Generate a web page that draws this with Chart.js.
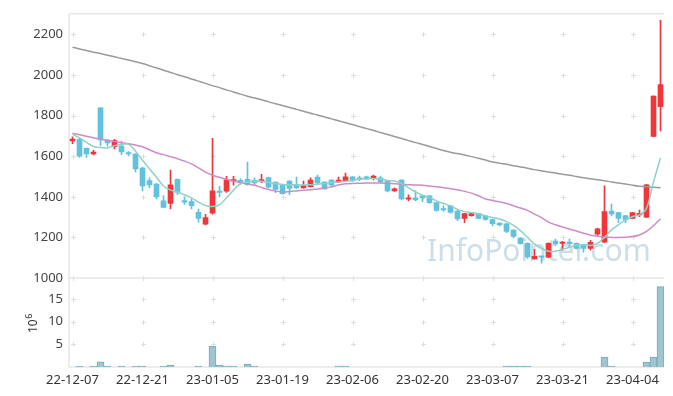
<!DOCTYPE html>
<html>
<head>
<meta charset="utf-8">
<script src="https://cdn.jsdelivr.net/npm/chart.js@4.4.1/dist/chart.umd.min.js"></script>
<style>
  html, body { margin: 0; padding: 0; background: #fff; }
  #wrap { width: 673px; height: 396px; position: relative; }
</style>
</head>
<body>
<div id="wrap"><canvas id="priceChart"></canvas></div>
<script>
const dates = [
  "22-12-07","22-12-08","22-12-09","22-12-12","22-12-13","22-12-14","22-12-15","22-12-16","22-12-19","22-12-20",
  "22-12-21","22-12-22","22-12-23","22-12-26","22-12-27","22-12-28","22-12-29","23-01-02","23-01-03","23-01-04",
  "23-01-05","23-01-06","23-01-09","23-01-10","23-01-11","23-01-12","23-01-13","23-01-16","23-01-17","23-01-18",
  "23-01-19","23-01-20","23-01-25","23-01-26","23-01-27","23-01-30","23-01-31","23-02-01","23-02-02","23-02-03",
  "23-02-06","23-02-07","23-02-08","23-02-09","23-02-10","23-02-13","23-02-14","23-02-15","23-02-16","23-02-17",
  "23-02-20","23-02-21","23-02-22","23-02-23","23-02-24","23-02-27","23-02-28","23-03-02","23-03-03","23-03-06",
  "23-03-07","23-03-08","23-03-09","23-03-10","23-03-13","23-03-14","23-03-15","23-03-16","23-03-17","23-03-20",
  "23-03-21","23-03-22","23-03-23","23-03-24","23-03-27","23-03-28","23-03-29","23-03-30","23-03-31","23-04-03",
  "23-04-04","23-04-05","23-04-06","23-04-07","23-04-10"
];

const openP = [
  1676,1683,1639,1611,1839,1680,1647,1650,1616,1610,
  1541,1480,1463,1380,1367,1486,1381,1376,1323,1265,
  1319,1428,1428,1477,1479,1486,1481,1478,1495,1472,
  1459,1478,1460,1444,1450,1497,1473,1483,1473,1478,
  1498,1490,1498,1493,1493,1478,1429,1483,1388,1395,
  1405,1405,1371,1339,1356,1330,1293,1307,1317,1306,
  1288,1270,1267,1236,1197,1171,1094,1106,1102,1182,
  1170,1173,1171,1162,1145,1216,1177,1330,1322,1307,
  1294,1311,1299,1698,1844
];
const highP = [
  1696,1688,1641,1629,1840,1683,1683,1675,1623,1612,
  1546,1493,1466,1406,1532,1488,1400,1389,1340,1314,
  1688,1452,1501,1501,1490,1571,1493,1511,1497,1474,
  1461,1480,1497,1477,1493,1507,1475,1485,1497,1517,
  1500,1502,1502,1507,1502,1480,1444,1485,1410,1429,
  1407,1407,1373,1356,1358,1333,1319,1319,1319,1308,
  1290,1272,1269,1238,1199,1173,1141,1107,1173,1192,
  1180,1192,1173,1164,1185,1245,1454,1364,1324,1309,
  1324,1335,1461,1898,2270
];
const lowP = [
  1662,1594,1594,1606,1652,1650,1636,1608,1601,1523,
  1429,1445,1390,1346,1340,1411,1362,1340,1275,1262,
  1315,1399,1421,1457,1461,1457,1457,1470,1444,1420,
  1413,1411,1441,1442,1448,1466,1438,1449,1470,1476,
  1476,1480,1484,1483,1471,1424,1427,1385,1380,1380,
  1376,1367,1329,1328,1319,1283,1273,1305,1292,1283,
  1257,1257,1223,1197,1166,1096,1093,1073,1100,1161,
  1137,1156,1143,1127,1137,1210,1175,1306,1273,1273,
  1292,1302,1297,1696,1725
];
const closeP = [
  1684,1600,1611,1620,1680,1665,1677,1621,1611,1538,
  1454,1459,1400,1348,1459,1421,1374,1356,1294,1298,
  1429,1421,1484,1482,1474,1460,1468,1484,1447,1436,
  1416,1441,1444,1455,1483,1468,1439,1457,1483,1498,
  1478,1486,1488,1502,1473,1429,1439,1390,1393,1385,
  1395,1371,1333,1335,1323,1291,1317,1317,1294,1289,
  1267,1262,1229,1205,1169,1104,1107,1102,1171,1169,
  1175,1169,1145,1145,1176,1242,1327,1316,1294,1286,
  1322,1316,1459,1896,1953
];

// volume, millions of shares
const volume = [
  null,0.2,null,0.2,1.16,0.2,null,0.2,null,0.2,
  0.2,null,null,0.2,0.43,null,null,null,0.2,null,
  4.57,0.43,0.2,0.2,null,0.65,0.2,null,null,null,
  null,null,null,null,null,null,null,null,0.2,0.2,
  null,null,null,null,null,null,null,null,null,null,
  null,null,null,null,null,null,null,null,null,null,
  null,null,0.2,0.2,0.2,0.2,null,null,null,null,
  null,null,null,null,null,null,2.17,0.2,null,null,
  null,null,1.09,2.17,17.7
];

const ma5 = [
  1708,1690,1668,1648,1643,1641,1652,1658,1660,1625,
  1580,1538,1496,1453,1433,1424,1410,1395,1374,1357,
  1352,1360,1395,1433,1465,1473,1477,1477,1470,1465,
  1461,1459,1459,1458,1460,1462,1465,1470,1473,1477,
  1481,1486,1489,1490,1488,1480,1478,1465,1445,1424,
  1408,1397,1380,1367,1355,1338,1327,1322,1316,1306,
  1298,1291,1278,1259,1233,1200,1167,1145,1132,1132,
  1140,1151,1161,1164,1160,1170,1200,1237,1262,1286,
  1302,1311,1343,1473,1592
];
const ma20 = [
  1713,1706,1698,1691,1684,1678,1672,1667,1662,1655,
  1647,1632,1617,1608,1598,1588,1576,1562,1543,1522,
  1506,1496,1486,1478,1470,1463,1457,1446,1436,1428,
  1424,1426,1429,1432,1435,1438,1443,1449,1458,1464,
  1466,1467,1468,1468,1468,1466,1464,1462,1460,1458,
  1457,1453,1449,1445,1440,1435,1427,1418,1405,1389,
  1382,1375,1367,1356,1345,1333,1315,1297,1275,1262,
  1251,1241,1231,1220,1211,1205,1201,1200,1200,1201,
  1204,1212,1229,1258,1291
];
const ma120 = [
  2137,2129,2121,2113,2106,2098,2090,2082,2074,2066,
  2057,2046,2035,2024,2013,2002,1992,1981,1970,1959,
  1948,1938,1927,1917,1906,1896,1887,1878,1868,1859,
  1850,1840,1831,1822,1812,1803,1793,1784,1775,1765,
  1756,1746,1736,1727,1717,1707,1697,1687,1677,1667,
  1658,1648,1638,1628,1620,1613,1606,1598,1590,1581,
  1572,1566,1560,1553,1547,1541,1534,1528,1522,1517,
  1511,1506,1500,1494,1489,1484,1479,1473,1468,1463,
  1457,1452,1449,1447,1445
];

const priceTicks = [1000, 1200, 1400, 1600, 1800, 2000, 2200];
const volumeTicks = [5, 10, 15];

const UP = "#ef363b";
const DOWN = "#62c2de";
const candleColor = closeP.map((c, i) => (c >= openP[i] ? UP : DOWN));

const font = { family: "'Noto Sans', sans-serif", size: 13 };

// little "+" marks instead of full grid lines, panel borders and the watermark
const backdrop = {
  id: "backdrop",
  beforeDatasetsDraw(chart) {
    const { ctx, scales, chartArea } = chart;
    const x = scales.x, yp = scales.yPrice, yv = scales.yVol;
    ctx.save();

    ctx.font = "30px 'Noto Sans', sans-serif";
    ctx.fillStyle = "rgba(170, 200, 217, 0.6)";
    ctx.textBaseline = "alphabetic";
    ctx.fillText("InfoPointer.com", 427, 261);

    ctx.strokeStyle = "#dddddd";
    ctx.lineWidth = 1;
    const xs = [];
    for (let i = 0; i < dates.length; i += 10) xs.push(Math.round(x.getPixelForValue(i)) + 0.5);
    const marks = (scale, vals) => {
      vals.forEach(v => {
        const py = Math.round(scale.getPixelForValue(v)) + 0.5;
        xs.forEach(px => {
          ctx.beginPath();
          ctx.moveTo(px - 2.5, py); ctx.lineTo(px + 2.5, py);
          ctx.moveTo(px, py - 2.5); ctx.lineTo(px, py + 2.5);
          ctx.stroke();
        });
      });
    };
    marks(yp, priceTicks);
    marks(yv, volumeTicks);

    ctx.strokeStyle = "#e6e6e6";
    ctx.lineWidth = 1.5;
    ctx.beginPath();
    ctx.moveTo(chartArea.left, yp.top); ctx.lineTo(chartArea.right, yp.top);
    ctx.moveTo(chartArea.left, yp.bottom); ctx.lineTo(chartArea.right, yp.bottom);
    ctx.moveTo(chartArea.left, yv.bottom); ctx.lineTo(chartArea.right, yv.bottom);
    ctx.moveTo(chartArea.left, yp.top); ctx.lineTo(chartArea.left, yv.bottom);
    ctx.stroke();
    ctx.restore();
  },
  afterDraw(chart) {
    const ctx = chart.ctx;
    ctx.save();
    ctx.translate(37, 333);
    ctx.rotate(-Math.PI / 2);
    ctx.fillStyle = "#333";
    ctx.textBaseline = "alphabetic";
    ctx.font = "12px 'Noto Sans', sans-serif";
    ctx.fillText("10", 0, 0);
    const w = ctx.measureText("10").width;
    ctx.font = "9px 'Noto Sans', sans-serif";
    ctx.fillText("6", w + 0.5, -5);
    ctx.restore();
  }
};

new Chart(document.getElementById("priceChart"), {
  data: {
    labels: dates,
    datasets: [
      { type: "line", label: "MA5", data: ma5, yAxisID: "yPrice", borderColor: "#8fd1c6",
        borderWidth: 1.5, pointRadius: 0, tension: 0.3, order: 0 },
      { type: "line", label: "MA20", data: ma20, yAxisID: "yPrice", borderColor: "#cc8cc8",
        borderWidth: 1.5, pointRadius: 0, tension: 0.3, order: 0 },
      { type: "line", label: "MA120", data: ma120, yAxisID: "yPrice", borderColor: "#9a9a9a",
        borderWidth: 1.5, pointRadius: 0, tension: 0.3, order: 0 },
      { type: "bar", label: "body", data: openP.map((o, i) => [o, closeP[i]]), yAxisID: "yPrice",
        backgroundColor: candleColor, barThickness: 5, minBarLength: 1.5, grouped: false, order: 1 },
      { type: "bar", label: "wick", data: lowP.map((l, i) => [l, highP[i]]), yAxisID: "yPrice",
        backgroundColor: candleColor, barThickness: 1, grouped: false, order: 2 },
      { type: "bar", label: "volume", data: volume, yAxisID: "yVol",
        backgroundColor: "#9ec5d1", borderColor: "#77aabb", borderWidth: 1,
        barPercentage: 1, categoryPercentage: 1, grouped: false, order: 3 }
    ]
  },
  options: {
    responsive: true,
    maintainAspectRatio: false,
    animation: false,
    layout: { padding: { left: 0, top: 10, right: 9, bottom: 5 } },
    plugins: { legend: { display: false }, tooltip: { enabled: false } },
    scales: {
      x: {
        type: "category",
        offset: true,
        grid: { display: false, drawTicks: false },
        border: { display: false },
        ticks: {
          autoSkip: false, maxRotation: 0, padding: 5, color: "#333", font,
          callback: (v, i) => (i % 10 === 0 ? dates[i] : "")
        },
        afterFit: s => { s.height = 24; }
      },
      yVol: {
        position: "left", stack: "panels", stackWeight: 90,
        min: 0, max: 19.6,
        grid: { display: false, drawTicks: false },
        border: { display: false },
        ticks: { padding: 6, color: "#444", font, callback: v => String(v) },
        afterBuildTicks: s => { s.ticks = volumeTicks.map(v => ({ value: v })); },
        afterFit: s => { s.width = 69; }
      },
      yPrice: {
        position: "left", stack: "panels", stackWeight: 267,
        min: 1000, max: 2302,
        grid: { display: false, drawTicks: false },
        border: { display: false },
        ticks: { padding: 6, color: "#444", font, callback: v => String(v) },
        afterBuildTicks: s => { s.ticks = priceTicks.map(v => ({ value: v })); },
        afterFit: s => { s.width = 69; }
      }
    }
  },
  plugins: [backdrop]
});
</script>
</body>
</html>
